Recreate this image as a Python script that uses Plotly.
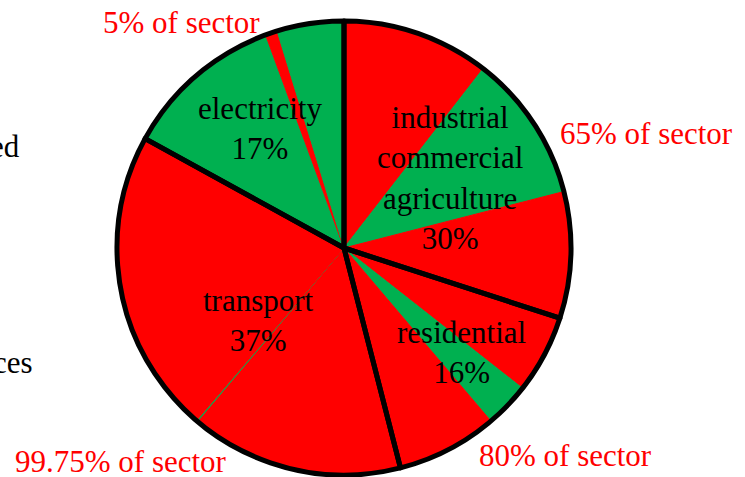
import plotly.graph_objects as go

# sectors clockwise from 12 o'clock
sector_names = ["industrial<br>commercial<br>agriculture", "residential", "transport", "electricity"]
sector_shares = [30, 16, 37, 17]

# sub-slices of each sector (percent of sector), red = fossil, green = other
sub_kinds = [
    ["red", "green", "red"],
    ["red", "green", "red"],
    ["red", "green", "red"],
    ["green", "red", "green"],
]
sub_fracs = [
    [35, 35, 30],
    [35, 20, 45],
    [41, 0.25, 58.75],
    [67, 5, 28],
]
note_texts = ["5% of sector", "65% of sector", "80% of sector", "99.75% of sector"]
side_texts = ["ed", "ces"]

RED = "#FF0000"
GREEN = "#00B050"
W, H = 745, 477
FONT = "Liberation Serif, Times New Roman, serif"
FS = 31

sub_values, sub_colors = [], []
for share, kinds, fracs in zip(sector_shares, sub_kinds, sub_fracs):
    for k, f in zip(kinds, fracs):
        sub_values.append(share * f / 100)
        sub_colors.append(RED if k == "red" else GREEN)

# pie geometry in pixels
cx, cy, r = 344, 248, 227
dom = dict(x=[(cx - r) / W, (cx + r) / W], y=[(H - cy - r) / H, (H - cy + r) / H])

fig = go.Figure()
fig.add_trace(go.Pie(
    values=sub_values, sort=False, direction="clockwise",
    marker=dict(colors=sub_colors, line=dict(color=sub_colors, width=1)),
    textinfo="none", hoverinfo="skip", showlegend=False, domain=dom,
))
fig.add_trace(go.Pie(
    values=sector_shares, labels=sector_names, sort=False, direction="clockwise",
    marker=dict(colors=["rgba(0,0,0,0)"] * 4, line=dict(color="black", width=5)),
    textinfo="none", hoverinfo="label+percent", showlegend=False, domain=dom,
))


def px(x):
    return x / W


def py(y):
    return 1 - y / H


def note(text, x, y, color, xanchor="center"):
    fig.add_annotation(x=px(x), y=py(y), xref="paper", yref="paper",
                       text=text, showarrow=False,
                       xanchor=xanchor, yanchor="middle",
                       font=dict(family=FONT, size=FS, color=color))


# sector labels
label_pos = [(450, 178), (462, 352), (258, 320), (260, 128)]
for name, share, (x, y) in zip(sector_names, sector_shares, label_pos):
    note(f"{name}<br>{share}%", x, y, "black")

# red notes
note_pos = [(181, 23), (646, 133), (565, 455), (121, 461)]
for t, (x, y) in zip(note_texts, note_pos):
    note(t, x, y, RED)

# cut-off side text (legend runs off the left edge)
for t, (x, y) in zip(side_texts, [(22, 147), (35, 362)]):
    note(t, x, y, "black", xanchor="right")

fig.update_layout(
    width=W, height=H,
    margin=dict(l=0, r=0, t=0, b=0),
    paper_bgcolor="white", plot_bgcolor="white",
)

fig.write_html("out.html", config={"displayModeBar": False},
               post_script="document.body.style.margin='0';")
